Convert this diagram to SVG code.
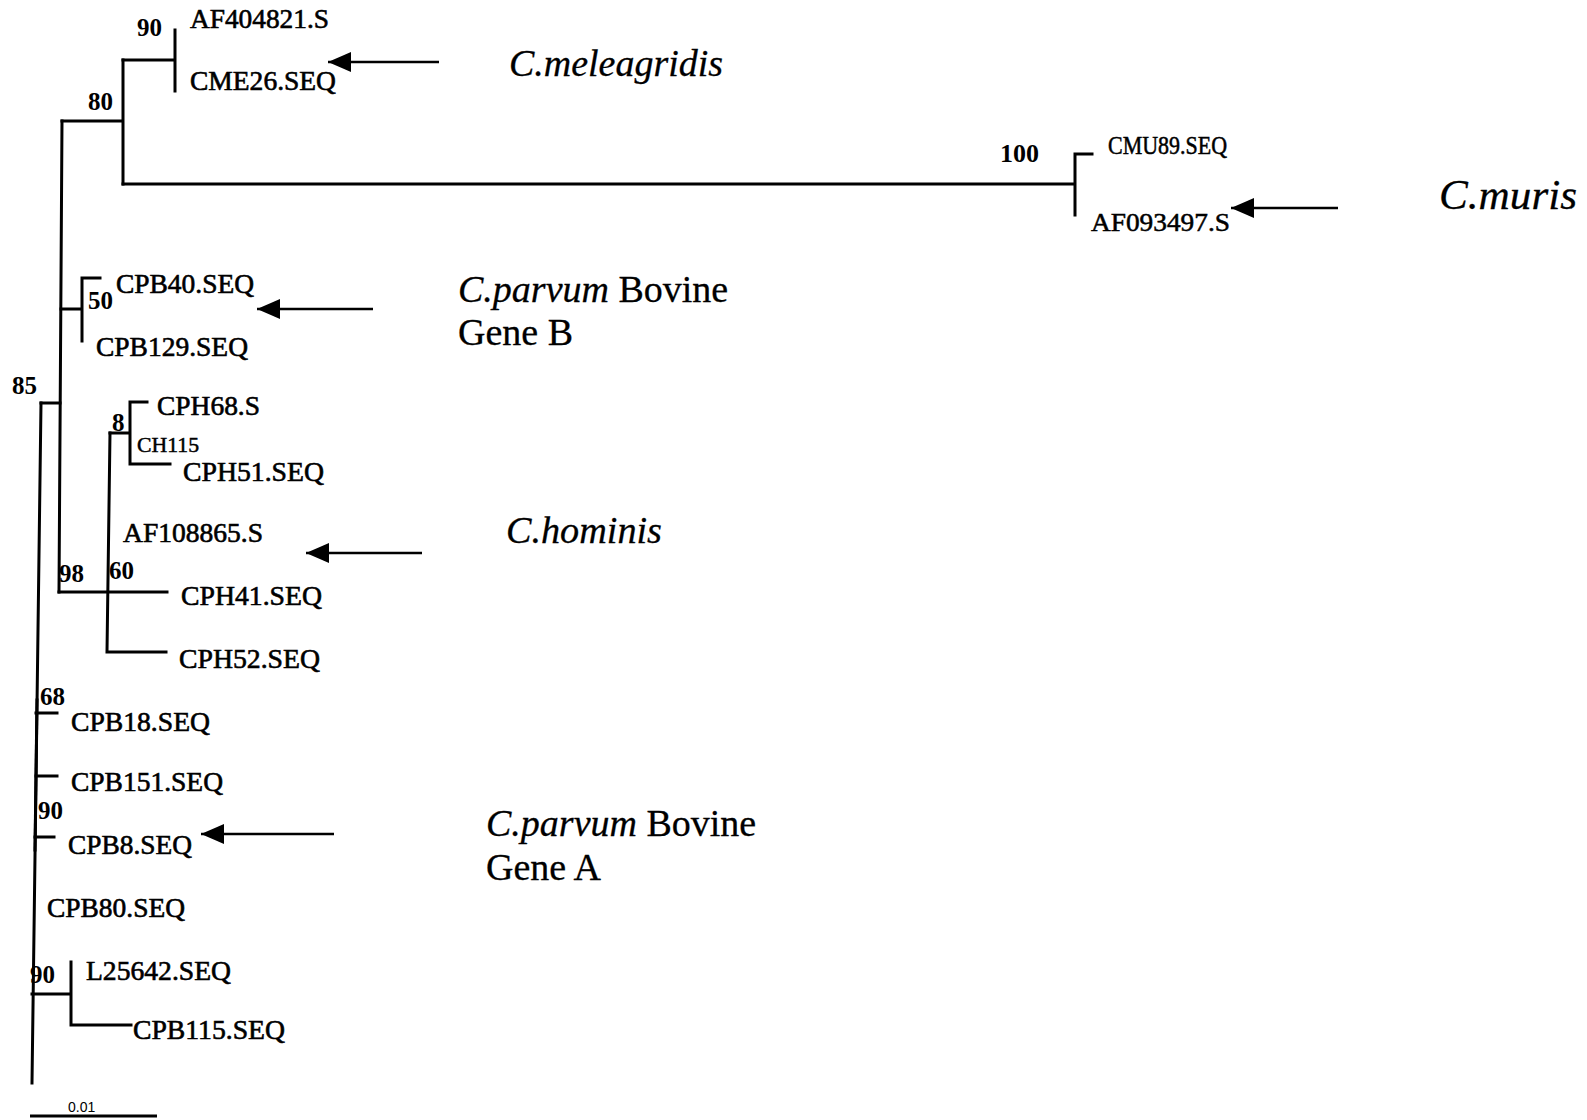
<svg xmlns="http://www.w3.org/2000/svg" width="1587" height="1120" viewBox="0 0 1587 1120">
<style>
.br{stroke:#000;stroke-width:3;fill:none;stroke-linecap:square}
.ar{stroke:#000;stroke-width:2.6;fill:none}
.lb{font-family:"Liberation Serif","Times New Roman",serif;font-size:27px;fill:#000;stroke:#000;stroke-width:0.6}
.sm{font-family:"Liberation Serif","Times New Roman",serif;font-size:22px;fill:#000;stroke:#000;stroke-width:0.5}
.md{font-family:"Liberation Serif","Times New Roman",serif;font-size:25px;fill:#000;stroke:#000;stroke-width:0.5}
.bs{font-family:"Liberation Serif","Times New Roman",serif;font-size:25px;font-weight:bold;fill:#000}
.sp{font-family:"Liberation Serif","Times New Roman",serif;font-size:38px;fill:#000;stroke:#000;stroke-width:0.3}
.big{font-size:42px}
.it{font-style:italic}
.sc{font-family:"Liberation Sans",Arial,sans-serif;font-size:14px;fill:#000}
</style>
<defs>
<marker id="ah" markerUnits="userSpaceOnUse" markerWidth="24" markerHeight="20" refX="23" refY="10" orient="auto">
<path d="M0,0 L23,10 L0,20 z" fill="#000"/>
</marker>
</defs>
<rect width="1587" height="1120" fill="#fff"/>
<g id="connectors">
<path class="br" d="M41,403 L32,1083"/>
<path class="br" d="M37,700 L35,850" stroke-width="4"/>
<path class="br" d="M41,403 H60"/>
<path class="br" d="M62,121 L59,592"/>
<path class="br" d="M62,121 H123 M123,60 V184"/>
<path class="br" d="M123,60 H175 M175,30 V91"/>
<path class="br" d="M123,184 H1075 M1075,154 V215 M1075,154 H1092"/>
<path class="br" d="M61,309 H82 M82,278 V341 M82,278 H100"/>
<path class="br" d="M59,592 H167"/>
<path class="br" d="M110,433 L107,652 M107,652 H166"/>
<path class="br" d="M110,433 H130 M130,402 V464 M130,402 H147 M130,464 H170"/>
<path class="br" d="M36,713 H57 M36,776 H57 M35,837 H54"/>
<path class="br" d="M32,994 H71 M71,962 V1025 M71,1025 H131"/>
<path class="ar" d="M439,62 H328" marker-end="url(#ah)"/>
<path class="ar" d="M373,309 H257" marker-end="url(#ah)"/>
<path class="ar" d="M422,553 H306" marker-end="url(#ah)"/>
<path class="ar" d="M334,834 H201" marker-end="url(#ah)"/>
<path class="ar" d="M1338,208 H1231" marker-end="url(#ah)"/>
<path d="M30,1116 H157" stroke="#000" stroke-width="3"/>
</g>
<g id="n-AF404821"><text class="lb" x="190" y="28" textLength="139" lengthAdjust="spacingAndGlyphs">AF404821.S</text></g>
<g id="n-CME26"><text class="lb" x="190" y="90" textLength="146" lengthAdjust="spacingAndGlyphs">CME26.SEQ</text></g>
<g id="n-CMU89"><text class="md" x="1108" y="154" textLength="119" lengthAdjust="spacingAndGlyphs">CMU89.SEQ</text></g>
<g id="n-AF093497"><text class="md" x="1091" y="231" textLength="139" lengthAdjust="spacingAndGlyphs">AF093497.S</text></g>
<g id="n-CPB40"><text class="lb" x="116" y="293" textLength="138" lengthAdjust="spacingAndGlyphs">CPB40.SEQ</text></g>
<g id="n-CPB129"><text class="lb" x="96" y="356" textLength="152" lengthAdjust="spacingAndGlyphs">CPB129.SEQ</text></g>
<g id="n-CPH68"><text class="lb" x="157" y="415" textLength="103" lengthAdjust="spacingAndGlyphs">CPH68.S</text></g>
<g id="n-CH115"><text class="sm" x="137" y="452" textLength="62" lengthAdjust="spacingAndGlyphs">CH115</text></g>
<g id="n-CPH51"><text class="lb" x="183" y="481" textLength="141" lengthAdjust="spacingAndGlyphs">CPH51.SEQ</text></g>
<g id="n-AF108865"><text class="lb" x="123" y="542" textLength="140" lengthAdjust="spacingAndGlyphs">AF108865.S</text></g>
<g id="n-CPH41"><text class="lb" x="181" y="605" textLength="141" lengthAdjust="spacingAndGlyphs">CPH41.SEQ</text></g>
<g id="n-CPH52"><text class="lb" x="179" y="668" textLength="141" lengthAdjust="spacingAndGlyphs">CPH52.SEQ</text></g>
<g id="n-CPB18"><text class="lb" x="71" y="731" textLength="139" lengthAdjust="spacingAndGlyphs">CPB18.SEQ</text></g>
<g id="n-CPB151"><text class="lb" x="71" y="791" textLength="152" lengthAdjust="spacingAndGlyphs">CPB151.SEQ</text></g>
<g id="n-CPB8"><text class="lb" x="68" y="854" textLength="124" lengthAdjust="spacingAndGlyphs">CPB8.SEQ</text></g>
<g id="n-CPB80"><text class="lb" x="47" y="917" textLength="138" lengthAdjust="spacingAndGlyphs">CPB80.SEQ</text></g>
<g id="n-L25642"><text class="lb" x="86" y="980" textLength="145" lengthAdjust="spacingAndGlyphs">L25642.SEQ</text></g>
<g id="n-CPB115"><text class="lb" x="133" y="1039" textLength="152" lengthAdjust="spacingAndGlyphs">CPB115.SEQ</text></g>
<g id="bootstrap">
<text class="bs" x="137" y="36">90</text>
<text class="bs" x="88" y="110">80</text>
<text class="bs" x="1000" y="162" textLength="39" lengthAdjust="spacingAndGlyphs">100</text>
<text class="bs" x="88" y="309">50</text>
<text class="bs" x="12" y="394">85</text>
<text class="bs" x="112" y="431">8</text>
<text class="bs" x="59" y="582">98</text>
<text class="bs" x="109" y="579">60</text>
<text class="bs" x="40" y="705">68</text>
<text class="bs" x="38" y="819">90</text>
<text class="bs" x="30" y="983">90</text>
</g>
<g id="sp-meleagridis"><text class="sp it" x="509" y="76" textLength="214" lengthAdjust="spacingAndGlyphs">C.meleagridis</text></g>
<g id="sp-muris"><text class="sp it big" x="1439" y="209" textLength="138" lengthAdjust="spacingAndGlyphs">C.muris</text></g>
<g id="sp-parvumB"><text class="sp" x="458" y="302"><tspan class="it">C.parvum</tspan> Bovine</text><text class="sp" x="458" y="345">Gene B</text></g>
<g id="sp-hominis"><text class="sp it" x="506" y="543" textLength="156" lengthAdjust="spacingAndGlyphs">C.hominis</text></g>
<g id="sp-parvumA"><text class="sp" x="486" y="836"><tspan class="it">C.parvum</tspan> Bovine</text><text class="sp" x="486" y="880">Gene A</text></g>
<g id="scale"><text class="sc" x="68" y="1112">0.01</text></g>
</svg>
